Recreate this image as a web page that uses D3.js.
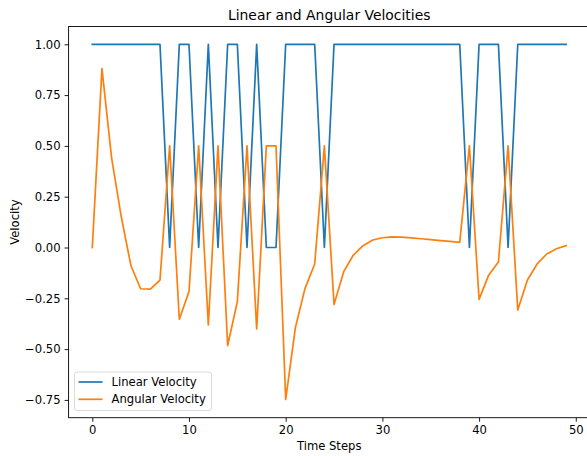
<!DOCTYPE html>
<html>
<head>
<meta charset="utf-8">
<script src="https://cdn.jsdelivr.net/npm/d3@7"></script>
<style>
  body { margin: 0; background: #fff; }
  svg { font-family: "DejaVu Sans", sans-serif; display: block; }
</style>
</head>
<body>
<svg id="chart" width="587" height="456"></svg>
<script>
// time steps 0..49
const steps = d3.range(50);

const linearVelocity = [
    1, 1, 1, 1, 1, 1, 1, 1, 0, 1,
    1, 0, 1, 0, 1, 1, 0, 1, 0, 0,
    1, 1, 1, 1, 0, 1, 1, 1, 1, 1,
    1, 1, 1, 1, 1, 1, 1, 1, 1, 0,
    1, 1, 1, 0, 1, 1, 1, 1, 1, 1
];

const angularVelocity = [
    0, 0.88, 0.44, 0.15, -0.09, -0.203, -0.205, -0.16, 0.5, -0.353,
    -0.217, 0.5, -0.381, 0.5, -0.482, -0.267, 0.5, -0.401, 0.5, 0.5,
    -0.748, -0.395, -0.201, -0.081, 0.5, -0.28, -0.119, -0.037, 0.009, 0.037,
    0.048, 0.052, 0.051, 0.047, 0.043, 0.039, 0.034, 0.03, 0.025, 0.5,
    -0.255, -0.135, -0.071, 0.5, -0.308, -0.16, -0.081, -0.032, -0.006, 0.009
];

const xTicks = [0, 10, 20, 30, 40, 50];
const yTicks = [-0.75, -0.5, -0.25, 0, 0.25, 0.5, 0.75, 1.0];

const series = [
    { name: 'Linear Velocity', values: linearVelocity, color: '#1f77b4' },
    { name: 'Angular Velocity', values: angularVelocity, color: '#ff7f0e' },
];

const svg = d3.select('#chart');
const plot = { left: 68.6, right: 589.8, top: 26.5, bottom: 417.7 };
const fontSize = '11.6px';

const x = d3.scaleLinear()
    .domain([-2.45, 51.45])
    .range([plot.left, plot.right]);

const y = d3.scaleLinear()
    .domain([-0.8375, 1.0875])
    .range([plot.bottom, plot.top]);

const line = d3.line()
    .x((d, i) => x(steps[i]))
    .y(d => y(d));

series.forEach(s => {
    svg.append('path')
        .datum(s.values)
        .attr('fill', 'none')
        .attr('stroke', s.color)
        .attr('stroke-width', 1.7)
        .attr('stroke-linejoin', 'round')
        .attr('stroke-linecap', 'square')
        .attr('d', line);
});

// axes
const minus = d3.format('.2f');
const fmt = v => minus(v).replace('-', '\u2212');

const xAxis = svg.append('g')
    .attr('transform', `translate(0, ${plot.bottom})`)
    .call(d3.axisBottom(x).tickValues(xTicks).tickSize(4).tickPadding(4).tickFormat(d3.format('d')));

const yAxis = svg.append('g')
    .attr('transform', `translate(${plot.left}, 0)`)
    .call(d3.axisLeft(y).tickValues(yTicks).tickSize(4).tickPadding(4).tickFormat(fmt));

[xAxis, yAxis].forEach(g => {
    g.select('.domain').remove();
    g.selectAll('line').attr('stroke', '#000').attr('stroke-width', 0.9);
    g.selectAll('text').attr('font-size', fontSize).attr('fill', '#000')
        .attr('font-family', '"DejaVu Sans", sans-serif');
});

// spines
svg.append('rect')
    .attr('x', plot.left)
    .attr('y', plot.top)
    .attr('width', plot.right - plot.left)
    .attr('height', plot.bottom - plot.top)
    .attr('fill', 'none')
    .attr('stroke', '#000')
    .attr('stroke-width', 0.9);

// title and labels
svg.append('text')
    .attr('x', (plot.left + plot.right) / 2)
    .attr('y', 20)
    .attr('text-anchor', 'middle')
    .attr('font-size', '13.9px')
    .text('Linear and Angular Velocities');

svg.append('text')
    .attr('x', (plot.left + plot.right) / 2)
    .attr('y', 449.5)
    .attr('text-anchor', 'middle')
    .attr('font-size', fontSize)
    .text('Time Steps');

svg.append('text')
    .attr('transform', `translate(18.5, ${(plot.top + plot.bottom) / 2}) rotate(-90)`)
    .attr('text-anchor', 'middle')
    .attr('font-size', fontSize)
    .text('Velocity');

// legend
const legend = svg.append('g').attr('transform', 'translate(74.5, 372)');

legend.append('rect')
    .attr('width', 137)
    .attr('height', 38.5)
    .attr('rx', 2.5)
    .attr('fill', '#fff')
    .attr('fill-opacity', 0.8)
    .attr('stroke', '#d6d6d6')
    .attr('stroke-width', 0.9);

series.forEach((s, i) => {
    const row = legend.append('g').attr('transform', `translate(0, ${10 + i * 17.3})`);
    row.append('line')
        .attr('x1', 4).attr('x2', 28)
        .attr('stroke', s.color)
        .attr('stroke-width', 1.7);
    row.append('text')
        .attr('x', 37)
        .attr('y', 4.1)
        .attr('font-size', fontSize)
        .text(s.name);
});
</script>
</body>
</html>
